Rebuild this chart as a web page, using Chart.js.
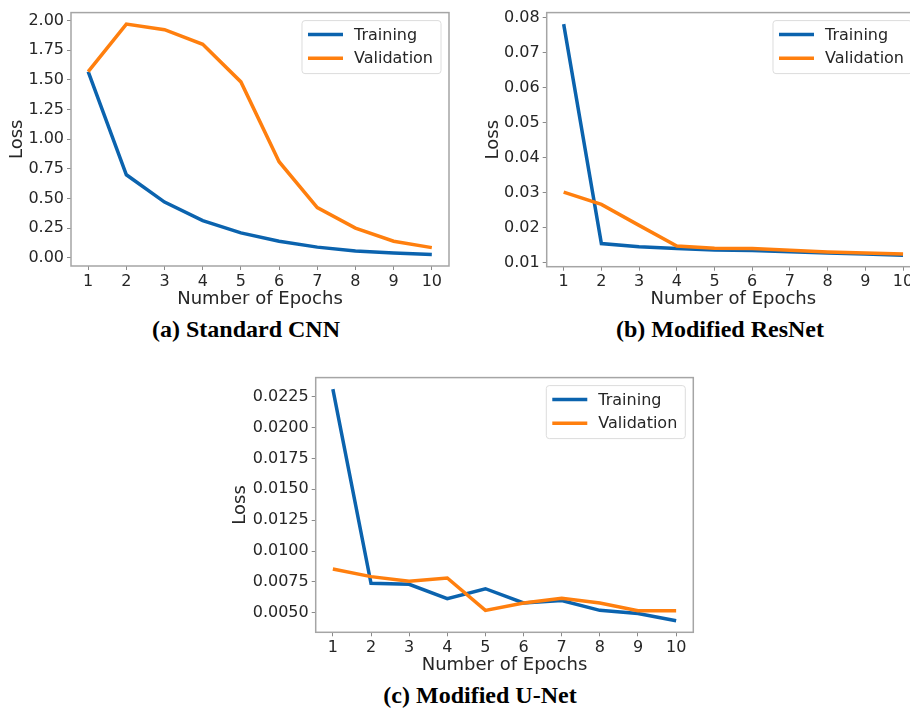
<!DOCTYPE html>
<html>
<head>
<meta charset="utf-8">
<script src="https://cdn.jsdelivr.net/npm/chart.js@4/dist/chart.umd.min.js"></script>
<style>
  html, body { margin: 0; padding: 0; background: #fff; overflow: hidden; width: 910px; height: 710px; }
  .box { position: absolute; }
  .caption {
    position: absolute;
    font-family: "Liberation Serif", "Times New Roman", serif;
    font-weight: bold;
    font-size: 24px;
    color: #000;
    text-align: center;
    white-space: nowrap;
  }
</style>
</head>
<body>
<div class="box" style="left:0px;top:0px;width:460px;height:310px"><canvas id="chartCnn" width="460" height="310"></canvas></div>
<div class="box" style="left:460px;top:0px;width:470px;height:310px"><canvas id="chartResnet" width="470" height="310"></canvas></div>
<div class="box" style="left:220px;top:365px;width:480px;height:311px"><canvas id="chartUnet" width="480" height="311"></canvas></div>

<div class="caption" style="left:96px;top:315px;width:300px;line-height:28px">(a) Standard CNN</div>
<div class="caption" style="left:570px;top:315px;width:300px;line-height:28px">(b) Modified ResNet</div>
<div class="caption" style="left:330px;top:681px;width:300px;line-height:28px">(c) Modified U-Net</div>

<script>
// epochs on the x axis
const epochs = [1, 2, 3, 4, 5, 6, 7, 8, 9, 10];

// (a) Standard CNN
const cnnTraining = [1.57, 0.70, 0.47, 0.313, 0.21, 0.14, 0.09, 0.058, 0.04, 0.028];
const cnnValidation = [1.57, 1.97, 1.923, 1.80, 1.483, 0.81, 0.423, 0.25, 0.14, 0.086];
const cnnTicks = [0, 0.25, 0.5, 0.75, 1.0, 1.25, 1.5, 1.75, 2.0];

// (b) Modified ResNet
const resnetTraining = [0.0782, 0.0155, 0.0146, 0.0141, 0.0137, 0.0135, 0.0132, 0.0128, 0.0125, 0.0122];
const resnetValidation = [0.0302, 0.0267, 0.0207, 0.0148, 0.0142, 0.0141, 0.0136, 0.0131, 0.0128, 0.0125];
const resnetTicks = [0.01, 0.02, 0.03, 0.04, 0.05, 0.06, 0.07, 0.08];

// (c) Modified U-Net
const unetTraining = [0.0231, 0.00739, 0.00731, 0.00615, 0.00695, 0.0058, 0.0060, 0.0052, 0.00495, 0.00436];
const unetValidation = [0.00854, 0.00793, 0.00755, 0.00782, 0.0052, 0.0058, 0.00617, 0.0058, 0.00516, 0.00516];
const unetTicks = [0.005, 0.0075, 0.01, 0.0125, 0.015, 0.0175, 0.02, 0.0225];

const colorTraining = "#0b63ae";
const colorValidation = "#ff7f0e";
const textColor = "#262626";
const fontName = "'DejaVu Sans', sans-serif";

Chart.defaults.font.family = fontName;
Chart.defaults.color = textColor;

// matplotlib-like frame and legend drawn inside the plot area
const frameLegend = {
  id: "frameLegend",
  afterDraw(chart) {
    const ctx = chart.ctx;
    const a = chart.chartArea;
    ctx.save();
    ctx.strokeStyle = "#a5a5a5";
    ctx.lineWidth = 1.5;
    ctx.strokeRect(a.left, a.top, a.right - a.left, a.bottom - a.top);

    ctx.font = "16px " + fontName;
    const labels = chart.data.datasets.map((d) => d.label);
    const textW = Math.max(...labels.map((l) => ctx.measureText(l).width));
    const w = 6 + 35 + 11 + textW + 8;
    const h = 53;
    const x = a.right - 8 - w;
    const y = a.top + 8;
    ctx.fillStyle = "rgba(255,255,255,0.85)";
    ctx.strokeStyle = "#dcdcdc";
    ctx.lineWidth = 1;
    ctx.beginPath();
    ctx.roundRect(x, y, w, h, 3);
    ctx.fill();
    ctx.stroke();

    chart.data.datasets.forEach((d, i) => {
      const ry = y + 14 + i * 23.6;
      ctx.strokeStyle = d.borderColor;
      ctx.lineWidth = 3.5;
      ctx.beginPath();
      ctx.moveTo(x + 6, ry);
      ctx.lineTo(x + 41, ry);
      ctx.stroke();
      ctx.fillStyle = textColor;
      ctx.textBaseline = "middle";
      ctx.textAlign = "left";
      ctx.fillText(d.label, x + 52, ry + 1);
    });
    ctx.restore();
  },
};

function toPoints(values) {
  return values.map((v, i) => ({ x: epochs[i], y: v }));
}

function dibujarGrafica(id, training, validation, ticks, decimals, geo) {
  const all = training.concat(validation);
  const dmin = Math.min(...all);
  const dmax = Math.max(...all);
  const margin = (dmax - dmin) * 0.05;

  const ctx = document.getElementById(id).getContext("2d");
  return new Chart(ctx, {
    type: "line",
    data: {
      datasets: [
        {
          label: "Training",
          data: toPoints(training),
          borderColor: colorTraining,
          borderWidth: 3.5,
          pointRadius: 0,
          tension: 0,
          order: 1,
        },
        {
          label: "Validation",
          data: toPoints(validation),
          borderColor: colorValidation,
          borderWidth: 3.5,
          pointRadius: 0,
          tension: 0,
          order: 0,
        },
      ],
    },
    options: {
      responsive: false,
      animation: false,
      devicePixelRatio: 1,
      layout: { padding: geo.padding },
      plugins: {
        legend: { display: false },
        tooltip: { enabled: false },
      },
      scales: {
        x: {
          type: "linear",
          min: epochs[0] - 0.45,
          max: epochs[epochs.length - 1] + 0.45,
          afterBuildTicks: (scale) => {
            scale.ticks = epochs.map((v) => ({ value: v }));
          },
          afterFit: (scale) => {
            scale.height = geo.xHeight;
          },
          ticks: {
            font: { size: 16 },
            color: textColor,
            padding: 2,
            maxRotation: 0,
            autoSkip: false,
          },
          grid: {
            drawOnChartArea: false,
            drawTicks: true,
            tickLength: 4,
            color: "#8a8a8a",
          },
          border: { display: false },
          title: {
            display: true,
            text: "Number of Epochs",
            font: { size: 18 },
            color: textColor,
            padding: { top: 0, bottom: 0 },
          },
        },
        y: {
          min: dmin - margin,
          max: dmax + margin,
          afterBuildTicks: (scale) => {
            scale.ticks = ticks.map((v) => ({ value: v }));
          },
          afterFit: (scale) => {
            scale.width = geo.yWidth;
          },
          ticks: {
            font: { size: 16 },
            color: textColor,
            padding: 3,
            autoSkip: false,
            callback: (v) => Number(v).toFixed(decimals),
          },
          grid: {
            drawOnChartArea: false,
            drawTicks: true,
            tickLength: 4,
            color: "#8a8a8a",
          },
          border: { display: false },
          title: {
            display: true,
            text: "Loss",
            font: { size: 18 },
            color: textColor,
            padding: { top: geo.yTitlePad, bottom: 0 },
          },
        },
      },
    },
    plugins: [frameLegend],
  });
}

dibujarGrafica("chartCnn", cnnTraining, cnnValidation, cnnTicks, 2, {
  padding: { top: 9, right: 11, bottom: 0, left: 0 },
  yWidth: 71,
  xHeight: 44,
  yTitlePad: 7,
});

dibujarGrafica("chartResnet", resnetTraining, resnetValidation, resnetTicks, 2, {
  padding: { top: 11.7, right: 10, bottom: 0, left: 0 },
  yWidth: 86.7,
  xHeight: 43.3,
  yTitlePad: 23,
});

dibujarGrafica("chartUnet", unetTraining, unetValidation, unetTicks, 4, {
  padding: { top: 10, right: 6.7, bottom: 0, left: 0 },
  yWidth: 95.7,
  xHeight: 43.7,
  yTitlePad: 10,
});
</script>
</body>
</html>
